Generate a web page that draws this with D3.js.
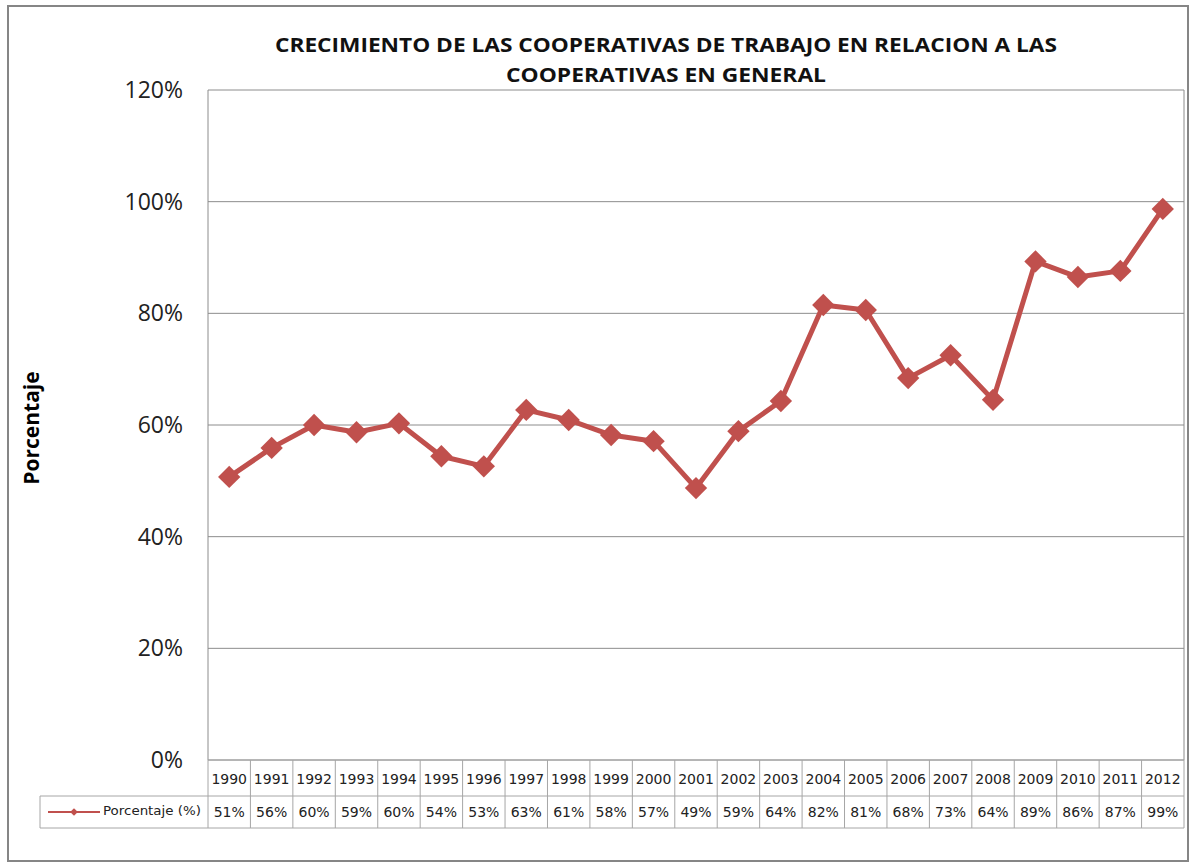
<!DOCTYPE html>
<html lang="es">
	<head>
		<meta charset="utf-8">
		<title>Crecimiento de las cooperativas de trabajo</title>
		<script type="text/javascript" src="https://cdn.jsdelivr.net/npm/d3@7"></script>
		<style type="text/css">
			body { margin: 0; background: #fff; }
		</style>
	</head>
	<body>
		<script type="text/javascript">

			// Datos
			var years = ["1990","1991","1992","1993","1994","1995","1996","1997","1998","1999","2000",
			             "2001","2002","2003","2004","2005","2006","2007","2008","2009","2010","2011","2012"];
			var values = [0.507, 0.559, 0.600, 0.587, 0.603, 0.544, 0.526, 0.627, 0.609, 0.582, 0.571,
			              0.487, 0.589, 0.643, 0.815, 0.806, 0.684, 0.725, 0.645, 0.893, 0.865, 0.876, 0.987];
			var valueLabels = ["51%","56%","60%","59%","60%","54%","53%","63%","61%","58%","57%",
			                   "49%","59%","64%","82%","81%","68%","73%","64%","89%","86%","87%","99%"];
			var yTicks = [0, 0.2, 0.4, 0.6, 0.8, 1.0, 1.2];
			var seriesName = "Porcentaje (%)";

			var w = 1196, h = 863;
			// area de trazado
			var pLeft = 208, pRight = 1184, pTop = 90, pBottom = 760;
			var rowH1 = 36, rowH2 = 32;
			var red = "#C0504D";

			var svg = d3.select("body").append("svg")
				.attr("width", w)
				.attr("height", h);

			// marco exterior
			svg.append("rect")
				.attr("x", 8).attr("y", 6)
				.attr("width", 1180).attr("height", 855)
				.attr("fill", "#fff")
				.attr("stroke", "#868686")
				.attr("stroke-width", 2);

			// escalas
			var x = d3.scaleBand().domain(years).range([pLeft, pRight]);
			var y = d3.scaleLinear().domain([0, 1.2]).range([pBottom, pTop]);

			// lineas de cuadricula
			svg.append("g").selectAll("line")
				.data(yTicks)
				.enter().append("line")
				.attr("x1", pLeft).attr("x2", pRight)
				.attr("y1", d => y(d)).attr("y2", d => y(d))
				.attr("stroke", "#8c8c8c")
				.attr("stroke-width", 1);

			// bordes verticales del area de trazado
			svg.append("line")
				.attr("x1", pLeft).attr("x2", pLeft)
				.attr("y1", pTop).attr("y2", pBottom)
				.attr("stroke", "#8c8c8c");
			svg.append("line")
				.attr("x1", pRight).attr("x2", pRight)
				.attr("y1", pTop).attr("y2", pBottom)
				.attr("stroke", "#8c8c8c");

			// etiquetas eje Y
			svg.append("g").selectAll("text")
				.data(yTicks)
				.enter().append("text")
				.attr("x", 183)
				.attr("y", d => y(d))
				.attr("dy", "0.35em")
				.attr("text-anchor", "end")
				.style("font-family", "'Open Sans', sans-serif")
				.style("font-size", "23px")
				.style("fill", "#222")
				.text(d3.format(".0%"));

			// titulo eje Y
			svg.append("text")
				.attr("transform", "translate(39,428) rotate(-90)")
				.attr("text-anchor", "middle")
				.style("font-family", "'Open Sans', sans-serif")
				.style("font-weight", "bold")
				.style("font-size", "21px")
				.text("Porcentaje");

			// titulo
			var title = svg.append("text")
				.attr("text-anchor", "middle")
				.style("font-family", "'Open Sans', sans-serif")
				.style("font-weight", "bold")
				.style("font-size", "20px")
				.style("fill", "#111");
			title.append("tspan").attr("x", 666).attr("y", 52)
				.attr("textLength", 782).attr("lengthAdjust", "spacingAndGlyphs")
				.text("CRECIMIENTO DE LAS COOPERATIVAS DE TRABAJO EN RELACION A LAS");
			title.append("tspan").attr("x", 666).attr("y", 82)
				.attr("textLength", 320).attr("lengthAdjust", "spacingAndGlyphs")
				.text("COOPERATIVAS EN GENERAL");

			// linea de la serie
			var line = d3.line()
				.x((d, i) => x(years[i]) + x.bandwidth() / 2)
				.y(d => y(d));

			svg.append("path")
				.datum(values)
				.attr("d", line)
				.attr("fill", "none")
				.attr("stroke", red)
				.attr("stroke-width", 5)
				.attr("stroke-linejoin", "round");

			var diamond = d3.symbol().type(d3.symbolSquare).size(250);
			svg.append("g").selectAll("path")
				.data(values)
				.enter().append("path")
				.attr("d", diamond)
				.attr("transform", (d, i) => "translate(" + (x(years[i]) + x.bandwidth() / 2) + "," + y(d) + ") rotate(45)")
				.attr("fill", red);

			// tabla de datos
			var tbl = svg.append("g");
			var gridColor = "#a6a6a6";
			var r1 = pBottom, r2 = pBottom + rowH1, r3 = pBottom + rowH1 + rowH2;

			// lineas horizontales
			tbl.append("line").attr("x1", pLeft).attr("x2", pRight).attr("y1", r1).attr("y2", r1).attr("stroke", gridColor);
			tbl.append("line").attr("x1", 40).attr("x2", pRight).attr("y1", r2).attr("y2", r2).attr("stroke", gridColor);
			tbl.append("line").attr("x1", 40).attr("x2", pRight).attr("y1", r3).attr("y2", r3).attr("stroke", gridColor);
			tbl.append("line").attr("x1", 40).attr("x2", 40).attr("y1", r2).attr("y2", r3).attr("stroke", gridColor);

			// lineas verticales
			tbl.selectAll("line.col")
				.data(years.concat(["end"]))
				.enter().append("line")
				.attr("class", "col")
				.attr("x1", d => d === "end" ? pRight : x(d))
				.attr("x2", d => d === "end" ? pRight : x(d))
				.attr("y1", r1).attr("y2", r3)
				.attr("stroke", gridColor);

			tbl.selectAll("text.year")
				.data(years)
				.enter().append("text")
				.attr("class", "year")
				.attr("x", d => x(d) + x.bandwidth() / 2)
				.attr("y", (r1 + r2) / 2 + 1)
				.attr("dy", "0.35em")
				.attr("text-anchor", "middle")
				.style("font-family", "'DejaVu Sans', sans-serif")
				.style("font-size", "14px")
				.style("fill", "#222")
				.text(d => d);

			tbl.selectAll("text.val")
				.data(valueLabels)
				.enter().append("text")
				.attr("class", "val")
				.attr("x", (d, i) => x(years[i]) + x.bandwidth() / 2)
				.attr("y", (r2 + r3) / 2)
				.attr("dy", "0.35em")
				.attr("text-anchor", "middle")
				.style("font-family", "'DejaVu Sans', sans-serif")
				.style("font-size", "14px")
				.style("fill", "#222")
				.text(d => d);

			// leyenda
			var ly = (r2 + r3) / 2;
			tbl.append("line")
				.attr("x1", 48).attr("x2", 100)
				.attr("y1", ly).attr("y2", ly)
				.attr("stroke", red).attr("stroke-width", 2);
			tbl.append("path")
				.attr("d", d3.symbol().type(d3.symbolSquare).size(30))
				.attr("transform", "translate(74," + ly + ") rotate(45)")
				.attr("fill", red);
			tbl.append("text")
				.attr("x", 103).attr("y", ly - 2)
				.attr("dy", "0.35em")
				.attr("textLength", 98).attr("lengthAdjust", "spacingAndGlyphs")
				.style("font-family", "'DejaVu Sans', sans-serif")
				.style("font-size", "13px")
				.style("fill", "#222")
				.text(seriesName);

		</script>
	</body>
</html>
